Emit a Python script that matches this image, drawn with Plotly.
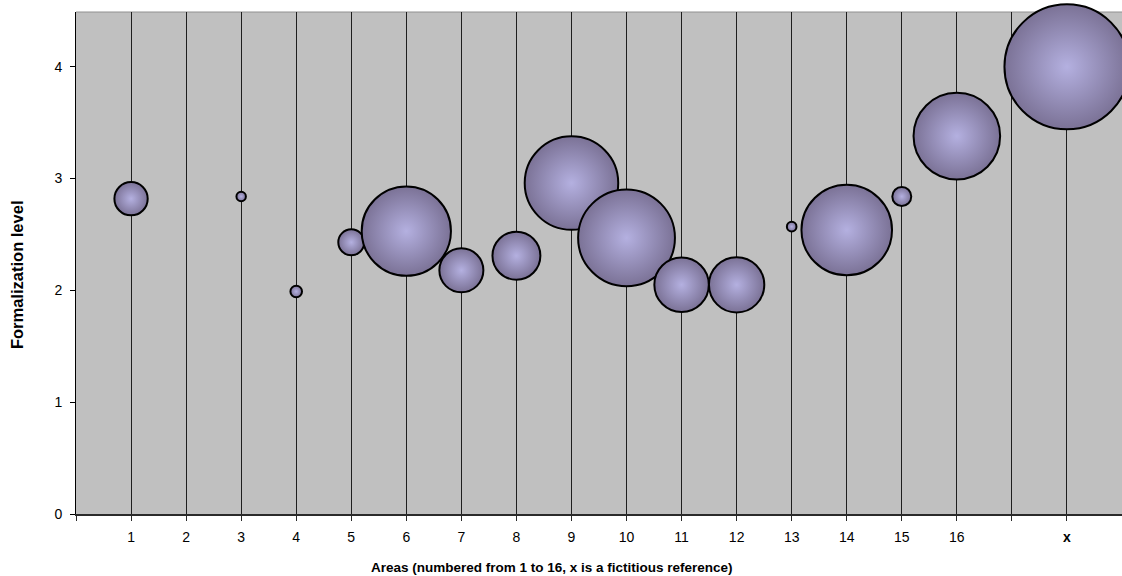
import plotly.graph_objects as go

# ---- data ----
areas = ["1", "2", "3", "4", "5", "6", "7", "8", "9", "10", "11", "12", "13", "14", "15", "16", "x"]
formalization = [2.82, None, 2.84, 1.99, 2.43, 2.53, 2.18, 2.31, 2.96, 2.47, 2.05, 2.05, 2.57, 2.54, 2.84, 3.38, 4.0]
bubble_size = [7.1, None, 0.57, 0.86, 4.3, 51, 12.4, 14.7, 56, 60, 19, 19.6, 0.59, 52.5, 2.3, 48, 100]
# axis slots: areas 1-16, an empty slot, then the reference "x"
axis_slots = areas[:16] + [""] + ["x"]
y_ticks = [0, 1, 2, 3, 4]

# keep only areas that have a bubble
present = [i for i, v in enumerate(bubble_size) if v is not None and formalization[i] is not None]
x_pos = [axis_slots.index(areas[i]) + 1 for i in present]
y_val = [formalization[i] for i in present]
s_val = [bubble_size[i] for i in present]

tick_vals = list(range(0, len(axis_slots) + 1))
tick_text = [""] + [("<b>%s</b>" % s if s == "x" else s) for s in axis_slots]

max_radius_px = 62.5
sizeref = max(s_val) / (2.0 * max_radius_px ** 2)

fig = go.Figure()
fig.add_trace(go.Scatter(
    x=x_pos, y=y_val, mode="markers",
    marker=dict(
        size=s_val, sizemode="area", sizeref=sizeref,
        color="#7b7296",
        gradient=dict(type="radial", color="#b4b0e0"),
        line=dict(color="black", width=2),
        opacity=1,
    ),
    cliponaxis=False,
    hoverinfo="skip",
    showlegend=False,
))

font_family = "Liberation Sans, Arial, sans-serif"

fig.update_layout(
    width=1122, height=576,
    margin=dict(l=76, r=0, t=12, b=62),
    paper_bgcolor="white",
    plot_bgcolor="#c0c0c0",
    font=dict(family=font_family, size=14, color="black"),
    xaxis=dict(
        range=[0, len(axis_slots) + 1],
        tickmode="array", tickvals=tick_vals, ticktext=tick_text,
        showgrid=True, gridcolor="#1e1e1e", gridwidth=1,
        zeroline=False,
        showline=True, linecolor="#2a2a2a", linewidth=2,
        ticks="outside", ticklen=5, tickcolor="#2a2a2a", tickwidth=1,
        tickfont=dict(size=14),
        ticklabelstandoff=4,
        fixedrange=True,
    ),
    yaxis=dict(
        range=[0, 4.49],
        tickmode="array", tickvals=y_ticks,
        showgrid=False, zeroline=False,
        showline=True, linecolor="black", linewidth=1,
        ticks="outside", ticklen=5, tickcolor="black",
        tickfont=dict(size=14),
        ticklabelstandoff=5,
        fixedrange=True,
    ),
    shapes=[dict(type="line", xref="paper", yref="paper", x0=0, x1=1, y0=1, y1=1,
                 line=dict(color="#909090", width=1), layer="below")],
    annotations=[
        dict(text="<b>Areas (numbered from 1 to 16, x is a fictitious reference)</b>",
             xref="paper", yref="paper", x=0.455, y=-0.1056, xanchor="center", yanchor="middle",
             showarrow=False, font=dict(size=13.5)),
        dict(text="<b>Formalization level</b>",
             xref="paper", yref="paper", x=-0.0564, y=0.476, xanchor="center", yanchor="middle",
             textangle=-90, showarrow=False, font=dict(size=16.5)),
    ],
)

fig.write_html("out.html", config={"displayModeBar": False},
               post_script="document.body.style.margin='0px';")
